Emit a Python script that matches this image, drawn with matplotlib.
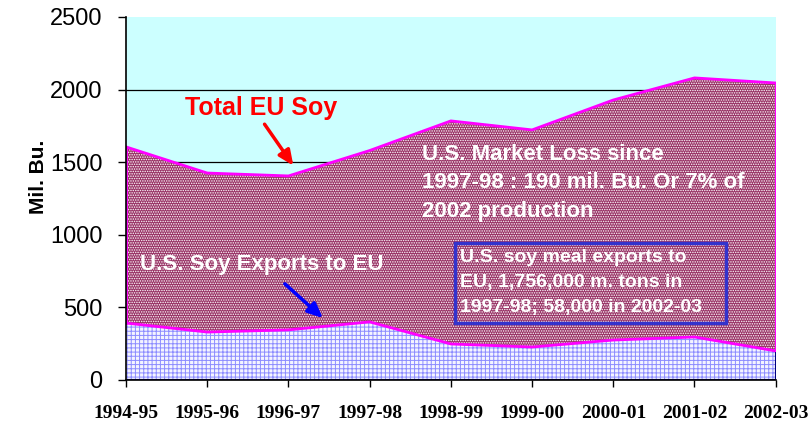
import matplotlib
matplotlib.use('Agg')
import matplotlib.pyplot as plt
from matplotlib.patches import Rectangle

# data
seasons = ['1994-95', '1995-96', '1996-97', '1997-98', '1998-99',
           '1999-00', '2000-01', '2001-02', '2002-03']
total_eu = [1605, 1425, 1405, 1580, 1784, 1722, 1928, 2080, 2045]
us_exports = [392, 330, 345, 400, 248, 227, 275, 296, 200]
yticks = [0, 500, 1000, 1500, 2000, 2500]

loss_lines = ['U.S. Market Loss since', '1997-98 : 190 mil. Bu. Or 7% of', '2002 production']
meal_lines = ['U.S. soy meal exports to', 'EU, 1,756,000 m. tons in', '1997-98; 58,000 in 2002-03']

x = list(range(len(seasons)))

plt.rcParams['hatch.linewidth'] = 0.7
fig = plt.figure(figsize=(8.08, 4.23), dpi=100)
ax = fig.add_axes([0.156, 0.1017, 0.804, 0.8583])
ax.set_facecolor('#ccffff')

# grid behind areas
for v in [500, 1000, 1500, 2000]:
    ax.axhline(v, color='black', lw=0.9, zorder=0.5)

ax.fill_between(x, us_exports, total_eu, facecolor='#993366', edgecolor='white',
                hatch='.......', linewidth=0, zorder=1)
ax.fill_between(x, 0, us_exports, facecolor='#f4f4ff', edgecolor='#8c8cff',
                hatch='++++', linewidth=0, zorder=1)
ax.plot(x, total_eu, color='#ff00ff', lw=2, zorder=2)
ax.plot(x, us_exports, color='#ff00ff', lw=2, zorder=2)
ax.plot([x[0], x[0]], [us_exports[0], total_eu[0]], color='#ff00ff', lw=2, zorder=2)
ax.plot([x[-1], x[-1]], [0, us_exports[-1]], color='#000080', lw=1.5, zorder=2)
ax.plot([x[-1], x[-1]], [us_exports[-1], total_eu[-1]], color='#ff00ff', lw=1.5, zorder=2)
ax.plot([x[0], x[-1]], [0, 0], color='#000080', lw=1.5, zorder=2)

ax.set_xlim(x[0], x[-1])
ax.set_ylim(0, 2500)
ax.set_yticks(yticks)
ax.set_yticklabels([str(v) for v in yticks], fontsize=17, family='Liberation Sans')
ax.set_xticks(x)
ax.set_xticklabels(seasons, fontsize=14, family='Liberation Serif', fontweight='bold')
ax.tick_params(axis='x', direction='out', length=5, width=1, pad=13)
ax.tick_params(axis='y', direction='out', length=6, width=1, pad=11)
for s in ['top', 'right']:
    ax.spines[s].set_visible(False)
ax.spines['left'].set_linewidth(1.2)
ax.spines['left'].set_zorder(3)
ax.spines['bottom'].set_linewidth(1.2)
ax.set_ylabel('Mil. Bu.', fontsize=15, fontweight='bold', family='Liberation Sans')
ax.yaxis.set_label_coords(-0.12, 0.559)

# annotations
ax.text(0.725, 1825, 'Total EU Soy', color='#ff0000', fontsize=18, fontweight='bold',
        family='Liberation Sans', ha='left', va='baseline', zorder=5)
ax.annotate('', xy=(2.08, 1460), xytext=(1.686, 1777),
            arrowprops=dict(arrowstyle='-|>,head_length=0.9,head_width=0.4', color='#ff0000', lw=2.5),
            zorder=5)
for line, yv in zip(loss_lines, [1515, 1319, 1122]):
    ax.text(3.643, yv, line, color='white', fontsize=16, fontweight='bold',
            family='Liberation Sans', ha='left', va='baseline', zorder=5)
ax.text(0.172, 758, 'U.S. Soy Exports to EU', color='white', fontsize=16, fontweight='bold',
        family='Liberation Sans', ha='left', va='baseline', zorder=5)
ax.annotate('', xy=(2.45, 413), xytext=(1.93, 675),
            arrowprops=dict(arrowstyle='-|>,head_length=0.9,head_width=0.4', color='#0000ff', lw=2.5),
            zorder=5)
ax.add_patch(Rectangle((4.049, 392), 3.336, 551, facecolor='none', edgecolor='#3333cc',
                       lw=2.5, zorder=5))
for line, yv in zip(meal_lines, [813, 640, 468]):
    ax.text(4.111, yv, line, color='white', fontsize=14, fontweight='bold',
            family='Liberation Sans', ha='left', va='baseline', zorder=5)

fig.savefig('out.png', dpi=100)
